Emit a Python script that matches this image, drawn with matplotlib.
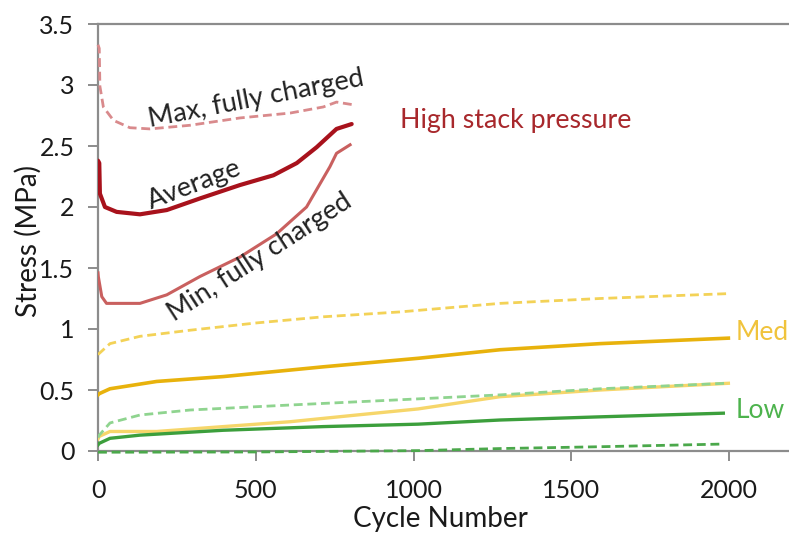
import matplotlib
matplotlib.use("Agg")
import matplotlib.pyplot as plt

plt.rcParams['font.family'] = ['Lato', 'DejaVu Sans']

# High stack pressure
hi_max_x = [0, 4, 6, 17, 49, 101, 165, 292, 450, 609, 714, 756, 804]
hi_max_y = [3.33, 3.30, 2.99, 2.82, 2.71, 2.65, 2.64, 2.67, 2.73, 2.77, 2.82, 2.86, 2.84]
hi_avg_x = [0, 4, 6, 22, 59, 133, 218, 323, 450, 556, 630, 693, 756, 804]
hi_avg_y = [2.38, 2.36, 2.11, 2.00, 1.96, 1.94, 1.975, 2.07, 2.18, 2.26, 2.36, 2.49, 2.64, 2.68]
hi_min_x = [0, 1, 12, 27, 133, 218, 323, 450, 566, 661, 735, 756, 799]
hi_min_y = [1.46, 1.43, 1.265, 1.21, 1.21, 1.28, 1.43, 1.59, 1.78, 2.00, 2.33, 2.44, 2.51]

# Medium stack pressure
med_max_x = [0, 4, 38, 133, 292, 503, 714, 957, 1274, 1591, 1998]
med_max_y = [0.79, 0.80, 0.88, 0.94, 0.99, 1.05, 1.10, 1.14, 1.21, 1.25, 1.29]
med_avg_x = [0, 4, 38, 186, 397, 714, 1015, 1274, 1591, 1998]
med_avg_y = [0.46, 0.47, 0.51, 0.57, 0.61, 0.69, 0.76, 0.83, 0.88, 0.925]
med_min_x = [0, 4, 38, 186, 397, 609, 820, 1015, 1274, 1591, 1998]
med_min_y = [0.10, 0.12, 0.16, 0.16, 0.20, 0.24, 0.295, 0.345, 0.445, 0.50, 0.555]

# Low stack pressure
low_max_x = [0, 4, 38, 133, 292, 609, 957, 1274, 1591, 1990]
low_max_y = [0.11, 0.13, 0.23, 0.295, 0.336, 0.377, 0.42, 0.46, 0.51, 0.555]
low_avg_x = [0, 4, 38, 133, 397, 714, 1015, 1274, 1591, 1982]
low_avg_y = [0.05, 0.063, 0.104, 0.13, 0.17, 0.20, 0.22, 0.254, 0.28, 0.31]
low_min_x = [0, 500, 1015, 1274, 1591, 1982]
low_min_y = [-0.01, -0.008, 0.003, 0.02, 0.035, 0.057]

x_ticks = [0, 500, 1000, 1500, 2000]
y_ticks = [0, 0.5, 1, 1.5, 2, 2.5, 3, 3.5]
y_tick_labels = ['0', '0.5', '1', '1.5', '2', '2.5', '3', '3.5']

W, H = 789, 536
fig = plt.figure(figsize=(W / 100, H / 100), dpi=100)
left, right, top, bottom = 98, 789, 24, 451
ax = fig.add_axes([left / W, 1 - bottom / H, (right - left) / W, (bottom - top) / H])
ax.set_xlim(0, (right - left) / 631 * 2000)
ax.set_ylim(0, 3.5)

dash = (0, (3.2, 1.7))
ax.plot(hi_max_x, hi_max_y, color='#d98a8c', lw=2.0, ls=dash, clip_on=False)
ax.plot(hi_avg_x, hi_avg_y, color='#a8121c', lw=3.0, solid_capstyle='round')
ax.plot(hi_min_x, hi_min_y, color='#c9605f', lw=2.2)

ax.plot(med_max_x, med_max_y, color='#f3d257', lw=2.0, ls=dash)
ax.plot(med_avg_x, med_avg_y, color='#e8b20c', lw=2.6)
ax.plot(med_min_x, med_min_y, color='#f6d66a', lw=2.4)

ax.plot(low_max_x, low_max_y, color='#8fd48f', lw=2.0, ls=dash)
ax.plot(low_avg_x, low_avg_y, color='#3c9f3c', lw=2.4)
ax.plot(low_min_x, low_min_y, color='#4ba84b', lw=2.0, ls=dash, clip_on=False)

ax.spines['right'].set_visible(False)
for s in ['left', 'bottom', 'top']:
    ax.spines[s].set_color('#8c8c8c')
    ax.spines[s].set_linewidth(1.6)
    ax.spines[s].set_zorder(0.5)

ax.set_xticks(x_ticks)
ax.set_xticklabels([str(v) for v in x_ticks])
ax.set_yticks(y_ticks)
ax.set_yticklabels(y_tick_labels)
ax.tick_params(axis='both', colors='#8c8c8c', labelcolor='#1a1a1a',
               labelsize=18, length=7, width=1.4)
ax.tick_params(axis='x', pad=13)
ax.tick_params(axis='y', pad=10)

ax.set_xlabel('Cycle Number', fontsize=20, color='#1a1a1a')
ax.set_ylabel('Stress (MPa)', fontsize=20, color='#1a1a1a')
ax.xaxis.set_label_coords((440 - left) / (right - left), -(519 - bottom) / (bottom - top))
ax.xaxis.label.set_va('center')
ax.yaxis.set_label_coords(-(98 - 28) / (right - left), (451 - 241) / (bottom - top))
ax.yaxis.label.set_va('center')

ann = dict(fontsize=19.5, color='#222222', ha='center', va='center',
           rotation_mode='anchor')
ax.text(501, 2.885, 'Max, fully charged', rotation=11, **ann)
ax.text(304, 2.18, 'Average', rotation=21, **ann)
ax.text(513, 1.59, 'Min, fully charged', rotation=33, **ann)
ax.text(1325, 2.71, 'High stack pressure', fontsize=19.3, color='#a8282c',
        ha='center', va='center')
ax.text(2022, 0.975, 'Med', fontsize=19, color='#f0c33c', ha='left', va='center')
ax.text(2022, 0.336, 'Low', fontsize=19, color='#4db34d', ha='left', va='center')

fig.savefig('out.png', dpi=100)
